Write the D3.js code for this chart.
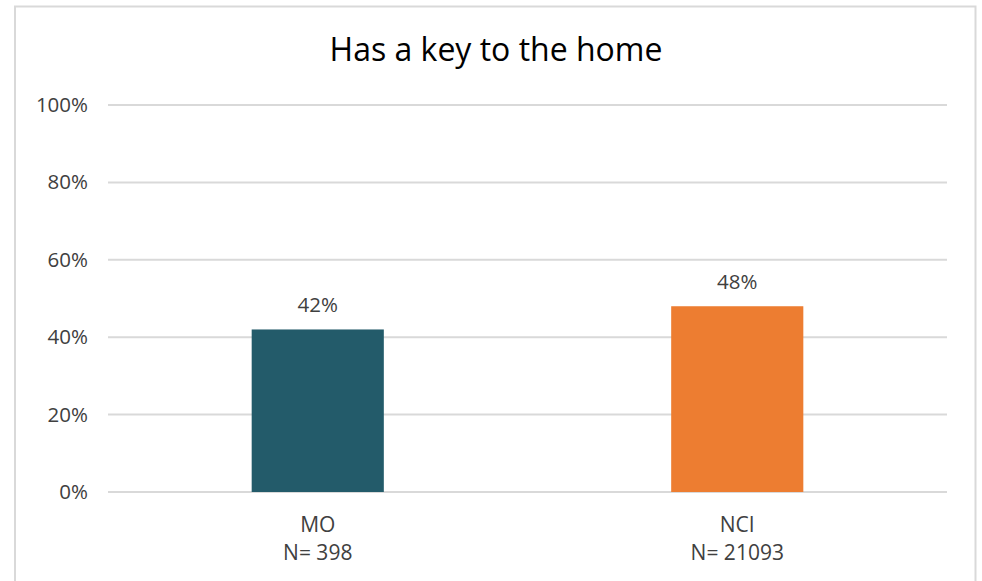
<!DOCTYPE html>
<html>
<head>
<meta charset="utf-8">
<script src="https://cdn.jsdelivr.net/npm/d3@7"></script>
<style>
  html, body { margin: 0; padding: 0; background: #ffffff; }
  svg { display: block; }
  text { font-family: "Open Sans", sans-serif; }
</style>
</head>
<body>
<svg id="chart" width="982" height="581"></svg>
<script>
const title = "Has a key to the home";
const categories = ["MO", "NCI"];
const sampleSizes = ["N= 398", "N= 21093"];
const values = [0.42, 0.48];
const colors = ["#235B6A", "#ED7D31"];
const yTicks = [0, 0.2, 0.4, 0.6, 0.8, 1.0];

const svg = d3.select("#chart");
const W = 982, H = 581;
const margin = { left: 108, right: 35, top: 105, bottom: 89 };
const plotW = W - margin.left - margin.right;
const plotH = H - margin.top - margin.bottom;

// outer chart border
svg.append("rect")
  .attr("x", 15).attr("y", 6.5)
  .attr("width", 960.5).attr("height", 590)
  .attr("fill", "#ffffff")
  .attr("stroke", "#d9d9d9").attr("stroke-width", 2);

const g = svg.append("g").attr("transform", `translate(${margin.left},${margin.top})`);

const x = d3.scaleBand().domain(categories).range([0, plotW])
  .paddingInner(0.685).paddingOuter(0.3425);
const y = d3.scaleLinear().domain([0, 1]).range([plotH, 0]);

// gridlines
g.append("g").selectAll("line").data(yTicks).join("line")
  .attr("x1", 0).attr("x2", plotW)
  .attr("y1", d => y(d)).attr("y2", d => y(d))
  .attr("stroke", "#d9d9d9").attr("stroke-width", 2);

// y axis labels
const yAxis = d3.axisLeft(y).tickValues(yTicks).tickFormat(d3.format(".0%")).tickSize(0).tickPadding(20);
const ya = g.append("g").call(yAxis);
ya.select(".domain").remove();
ya.selectAll("text").attr("font-size", 20.5).attr("fill", "#404040")
  .attr("font-family", "'Open Sans', sans-serif");

// bars
g.selectAll("rect.bar").data(values).join("rect")
  .attr("class", "bar")
  .attr("x", (d, i) => x(categories[i]))
  .attr("width", x.bandwidth())
  .attr("y", d => y(d))
  .attr("height", d => plotH - y(d))
  .attr("fill", (d, i) => colors[i]);

// value labels
g.selectAll("text.val").data(values).join("text")
  .attr("class", "val")
  .attr("x", (d, i) => x(categories[i]) + x.bandwidth() / 2)
  .attr("y", d => y(d) - 17)
  .attr("text-anchor", "middle")
  .attr("font-size", 20.5).attr("fill", "#404040")
  .text(d => d3.format(".0%")(d));

// x axis labels
const xl = g.append("g").selectAll("text.cat").data(categories).join("text")
  .attr("class", "cat")
  .attr("x", d => x(d) + x.bandwidth() / 2)
  .attr("y", plotH + 40)
  .attr("text-anchor", "middle")
  .attr("font-size", 21).attr("fill", "#404040");
xl.append("tspan").attr("x", d => x(d) + x.bandwidth() / 2).text(d => d);
xl.append("tspan").attr("x", d => x(d) + x.bandwidth() / 2).attr("dy", 28)
  .text((d, i) => sampleSizes[i]);

// title
svg.append("text")
  .attr("x", 496).attr("y", 61)
  .attr("text-anchor", "middle")
  .attr("font-size", 32).attr("fill", "#000000")
  .text(title);
</script>
</body>
</html>
